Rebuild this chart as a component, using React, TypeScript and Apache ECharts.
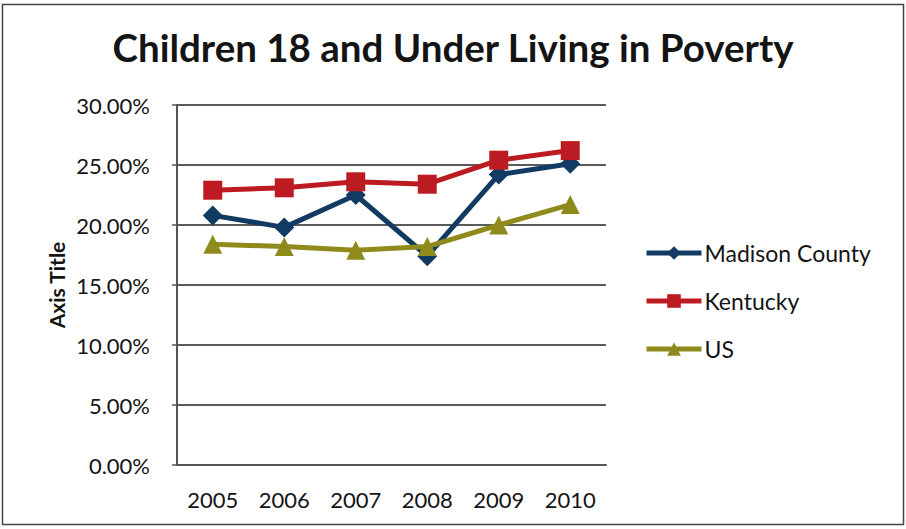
import React, { useEffect, useRef } from "react";
import * as echarts from "echarts";

// Share of children 18 and under living in poverty, in percent
const years = ["2005", "2006", "2007", "2008", "2009", "2010"];
const madisonCounty = [20.8, 19.8, 22.5, 17.4, 24.2, 25.1];
const kentucky = [22.9, 23.1, 23.6, 23.4, 25.4, 26.2];
const us = [18.4, 18.2, 17.9, 18.2, 20.0, 21.7];
const yTicks = { min: 0, max: 30, interval: 5 };

const FONT = "Lato, 'Open Sans', sans-serif";
const NAVY = "#123B63";
const RED = "#BC1B21";
const OLIVE = "#8E8B1C";

export default function App() {
  const ref = useRef<HTMLDivElement>(null);

  useEffect(() => {
    document.body.style.margin = "0";
    const chart = echarts.init(ref.current!, undefined, { renderer: "svg" });

    const lineSeries = (name: string, data: number[], color: string, symbol: string, size: number) => ({
      name,
      type: "line",
      data,
      symbol,
      symbolSize: size,
      lineStyle: { color, width: 5 },
      itemStyle: { color },
      z: 3,
    });

    chart.setOption({
      animation: false,
      backgroundColor: "#ffffff",
      title: {
        text: "Children 18 and Under Living in Poverty",
        left: "center",
        top: 22,
        textStyle: { fontFamily: FONT, fontSize: 38.5, fontWeight: "bold", color: "#141414" },
      },
      graphic: [
        {
          type: "rect",
          shape: { x: 2.5, y: 4.5, width: 901, height: 520 },
          style: { fill: "none", stroke: "#444", lineWidth: 1.5 },
          silent: true,
        },
      ],
      legend: {
        orient: "vertical",
        left: 644,
        top: 240,
        padding: 0,
        itemWidth: 55,
        itemHeight: 17,
        itemGap: 22,
        data: ["Madison County", "Kentucky", "US"],
        lineStyle: { width: 5 },
        textStyle: { fontFamily: FONT, fontSize: 23, color: "#141414", lineHeight: 26, padding: [0, 0, 0, -2] },
      },
      grid: { left: 177, right: 300, top: 105, bottom: 64 },
      xAxis: {
        type: "category",
        data: years,
        boundaryGap: true,
        axisLine: { lineStyle: { color: "#555", width: 2 } },
        axisTick: { show: false },
        axisLabel: { fontFamily: FONT, fontSize: 22, color: "#141414", margin: 23 },
      },
      yAxis: {
        type: "value",
        min: yTicks.min,
        max: yTicks.max,
        interval: yTicks.interval,
        name: "Axis Title",
        nameLocation: "middle",
        nameGap: 110,
        nameTextStyle: { fontFamily: FONT, fontSize: 21, fontWeight: "bold", color: "#141414" },
        axisLine: { show: true, lineStyle: { color: "#555", width: 2 } },
        axisTick: { show: true, length: 5, lineStyle: { color: "#555", width: 1.5 } },
        splitLine: { lineStyle: { color: "#5a5a5a", width: 2 } },
        axisLabel: {
          fontFamily: FONT,
          fontSize: 22,
          color: "#141414",
          margin: 27,
          formatter: (v: number) => `${v.toFixed(2)}%`,
        },
      },
      series: [
        lineSeries("Madison County", madisonCounty, NAVY, "diamond", 20),
        lineSeries("Kentucky", kentucky, RED, "rect", 19),
        lineSeries("US", us, OLIVE, "triangle", 19),
      ],
    });

    return () => chart.dispose();
  }, []);

  return <div ref={ref} style={{ width: 906, height: 529 }} />;
}
